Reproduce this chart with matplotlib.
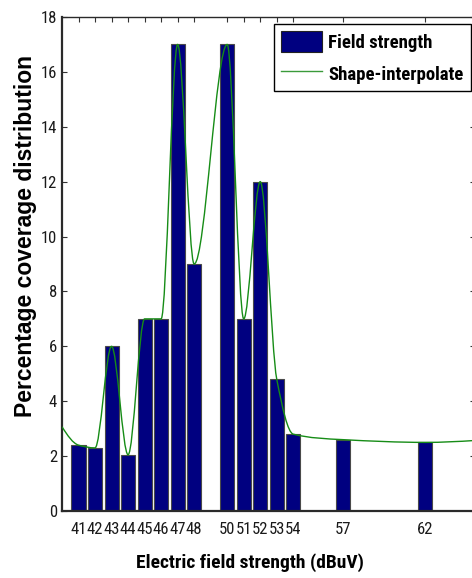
import numpy as np
import matplotlib
matplotlib.use("Agg")
import matplotlib.pyplot as plt
from matplotlib import font_manager as fm
from matplotlib.path import Path
from matplotlib.patches import PathPatch, Patch
from matplotlib.lines import Line2D

# ---- data ----
categories = [41, 42, 43, 44, 45, 46, 47, 48, 50, 51, 52, 53, 54, 57, 62]
values = [2.4, 2.3, 6.0, 2.05, 7.0, 7.0, 17.0, 9.0, 17.0, 7.0, 12.0, 4.8, 2.8, 2.6, 2.5]
# knots of the shape-preserving interpolation curve
curve_x = [40, 41, 42, 43, 44, 45, 46, 47, 48, 50, 51, 52, 53, 54, 57, 62, 65]
curve_y = [3.07, 2.4, 2.3, 6.0, 2.05, 7.0, 7.0, 17.0, 9.0, 17.0, 7.0, 12.0, 4.8, 2.8, 2.6, 2.5, 2.57]
yticks = [0, 2, 4, 6, 8, 10, 12, 14, 16, 18]


def pick(cands, need_bold=False):
    entries = fm.fontManager.ttflist
    for c in cands:
        ws = [f.weight for f in entries if f.name == c]
        if not ws:
            continue
        if need_bold and not any((w if isinstance(w, int) else 700 if w == 'bold' else 400) >= 600 for w in ws):
            continue
        return c
    return 'DejaVu Sans'


NARROW = pick(['Liberation Sans Narrow', 'Arial Narrow', 'Roboto Condensed',
               'Asap Condensed', 'Barlow Semi Condensed', 'Archivo Narrow'])
NARROW_B = pick(['Liberation Sans Narrow', 'Arial Narrow', 'Roboto Condensed',
                 'Asap Condensed', 'Barlow Semi Condensed'], need_bold=True)
REGULAR_B = pick(['Liberation Sans', 'Arimo', 'Arial'], need_bold=True)


def pchip_slopes(x, y):
    x = np.asarray(x, float)
    y = np.asarray(y, float)
    h = np.diff(x)
    delta = np.diff(y) / h
    n = len(x)
    d = np.zeros(n)
    for k in range(1, n - 1):
        if delta[k - 1] * delta[k] > 0:
            w1 = 2 * h[k] + h[k - 1]
            w2 = h[k] + 2 * h[k - 1]
            d[k] = (w1 + w2) / (w1 / delta[k - 1] + w2 / delta[k])

    def edge(h0, h1, m0, m1):
        dd = ((2 * h0 + h1) * m0 - h0 * m1) / (h0 + h1)
        if np.sign(dd) != np.sign(m0):
            dd = 0.0
        elif np.sign(m0) != np.sign(m1) and abs(dd) > abs(3 * m0):
            dd = 3 * m0
        return dd

    d[0] = edge(h[0], h[1], delta[0], delta[1])
    d[-1] = edge(h[-1], h[-2], delta[-1], delta[-2])
    return d


fig = plt.figure(figsize=(4.72, 5.78), dpi=100)
ax = fig.add_axes([62 / 472, 67 / 578, 413 / 472, 494 / 578])

bar_color = '#000080'
ax.bar(categories, values, width=0.85, color=bar_color, edgecolor='#4a4a4a',
       linewidth=0.8, zorder=2)

cx = np.asarray(curve_x, float)
cy = np.asarray(curve_y, float)
d = pchip_slopes(cx, cy)
verts = [(cx[0], cy[0])]
codes = [Path.MOVETO]
for i in range(len(cx) - 1):
    hh = cx[i + 1] - cx[i]
    verts += [(cx[i] + hh / 3, cy[i] + d[i] * hh / 3),
              (cx[i + 1] - hh / 3, cy[i + 1] - d[i + 1] * hh / 3),
              (cx[i + 1], cy[i + 1])]
    codes += [Path.CURVE4] * 3
line_color = '#168c16'
ax.add_patch(PathPatch(Path(verts, codes), facecolor='none', edgecolor=line_color,
                       linewidth=1.0, zorder=3))

ax.set_xlim(40, 65)
ax.set_ylim(0, 18)
ax.set_xticks(categories)
ax.set_xticklabels([str(c) for c in categories])
ax.set_yticks(yticks)
ax.set_yticklabels([str(t) for t in yticks])

ax.tick_params(axis='both', direction='in', length=3.5, width=0.8, color='#333333',
               top=True, right=True, labelsize=12)
ax.tick_params(axis='x', pad=8)
ax.tick_params(axis='y', pad=3.5)
for lab in ax.get_xticklabels() + ax.get_yticklabels():
    lab.set_family(NARROW)
    lab.set_color('#1a1a1a')

for s in ['left', 'bottom']:
    ax.spines[s].set_linewidth(1.6)
    ax.spines[s].set_color('#2a2a2a')
for s in ['top', 'right']:
    ax.spines[s].set_linewidth(1.0)
    ax.spines[s].set_color('#2a2a2a')

ax.set_xlabel('Electric field strength (dBuV)', family=NARROW_B, fontweight='bold', fontsize=14)
ax.xaxis.set_label_coords(0.456, -0.085)
ax.set_ylabel('Percentage coverage distribution', family=REGULAR_B, fontweight='bold', fontsize=16.5)
ax.yaxis.set_label_coords(-0.061, 0.557)

handles = [Patch(facecolor=bar_color, edgecolor='#222222', linewidth=0.8),
           Line2D([0], [1], color='#3a9a3a', linewidth=1.0)]
leg = ax.legend(handles, ['Field strength', 'Shape-interpolate'],
                loc='upper right', bbox_to_anchor=(0.990, 0.986), borderaxespad=0,
                prop={'family': NARROW_B, 'weight': 'bold', 'size': 13.5},
                handlelength=2.2, handleheight=1.3, handletextpad=0.3,
                labelspacing=0.6, borderpad=0.4, fancybox=False, framealpha=1,
                edgecolor='black')
leg.get_frame().set_linewidth(1.0)

fig.savefig('out.png', dpi=100)
